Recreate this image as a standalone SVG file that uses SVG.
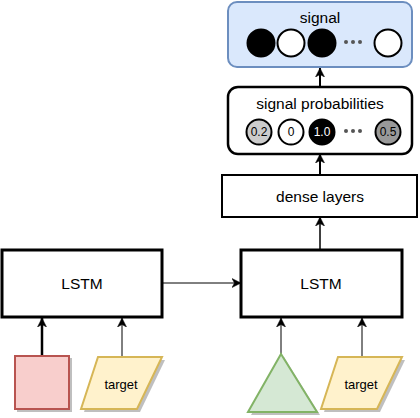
<svg xmlns="http://www.w3.org/2000/svg" width="420" height="418" viewBox="0 0 420 418">
<style>
text{font-family:"Liberation Sans",Arial,sans-serif;fill:#000;text-anchor:middle;dominant-baseline:central}
.lbl{font-size:15.5px}
.small{font-size:13px}
.num{font-size:12px}
.box{fill:#fff;stroke:#000}
.conn{fill:none;stroke:#000}
.shadow{fill:#000;opacity:0.25}
</style>
<defs>
<marker id="arr" markerUnits="userSpaceOnUse" markerWidth="10" markerHeight="10" refX="9" refY="5" orient="auto" viewBox="0 0 10 10">
<path d="M0,0.5 L9,5 L0,9.5 L2.5,5 Z" fill="#000" stroke="#000" stroke-width="0.5"/>
</marker>
</defs>

<g id="connectors">
<path class="conn" d="M320,87 L320,68" stroke-width="2" marker-end="url(#arr)"/>
<path class="conn" d="M320,175 L320,154" stroke-width="2" marker-end="url(#arr)"/>
<path class="conn" d="M320,250 L320,217" stroke-width="1.5" marker-end="url(#arr)"/>
<path class="conn" d="M162,283 L241,283" stroke-width="1" marker-end="url(#arr)"/>
<path class="conn" d="M42,355 L42,318" stroke-width="2.5" marker-end="url(#arr)"/>
<path class="conn" d="M122,357 L122,318" stroke-width="1" marker-end="url(#arr)"/>
<path class="conn" d="M281,354 L281,318" stroke-width="1" marker-end="url(#arr)"/>
<path class="conn" d="M362,357 L362,318" stroke-width="1" marker-end="url(#arr)"/>
</g>

<g id="signal">
<rect x="228" y="2" width="184" height="65" rx="9" fill="#dae8fc" stroke="#6c8ebf" stroke-width="2"/>
<text class="lbl" x="320" y="17">signal</text>
<circle cx="261" cy="43" r="13.5" fill="#000" stroke="#000" stroke-width="2"/>
<circle cx="291" cy="43" r="13.5" fill="#fff" stroke="#000" stroke-width="2"/>
<circle cx="322" cy="43" r="13.5" fill="#000" stroke="#000" stroke-width="2"/>
<circle cx="346" cy="42" r="2" fill="#555"/>
<circle cx="353" cy="42" r="2" fill="#555"/>
<circle cx="360" cy="42" r="2" fill="#555"/>
<circle cx="388" cy="43" r="13.5" fill="#fff" stroke="#000" stroke-width="2"/>
</g>

<g id="signal-probabilities">
<rect class="box" x="228" y="87" width="184" height="67" rx="10" stroke-width="2.5"/>
<text class="lbl" x="320" y="103">signal probabilities</text>
<circle cx="259" cy="132" r="12.5" fill="#ccc" stroke="#000" stroke-width="2"/>
<text class="num" x="259" y="132">0.2</text>
<circle cx="291" cy="132" r="12.5" fill="#fff" stroke="#000" stroke-width="2"/>
<text class="num" x="291" y="132">0</text>
<circle cx="322" cy="132" r="12.5" fill="#000" stroke="#000" stroke-width="2"/>
<text class="num" x="322" y="132" style="fill:#fff">1.0</text>
<circle cx="346" cy="131" r="2" fill="#555"/>
<circle cx="353" cy="131" r="2" fill="#555"/>
<circle cx="360" cy="131" r="2" fill="#555"/>
<circle cx="388" cy="132" r="12.5" fill="#999" stroke="#000" stroke-width="2"/>
<text class="num" x="388" y="132">0.5</text>
</g>

<g id="dense-layers">
<rect class="box" x="222" y="175" width="195" height="42" stroke-width="2"/>
<text class="lbl" x="320" y="196">dense layers</text>
</g>

<g id="lstm-left">
<rect class="box" x="2" y="250" width="160" height="67" stroke-width="3"/>
<text class="lbl" x="82" y="283">LSTM</text>
</g>

<g id="lstm-right">
<rect class="box" x="241" y="250" width="161" height="67" stroke-width="3"/>
<text class="lbl" x="321" y="283">LSTM</text>
</g>

<g id="input-square">
<rect class="shadow" x="17" y="358" width="55" height="54"/>
<rect x="15" y="356" width="54" height="53" fill="#f8cecc" stroke="#b85450" stroke-width="2"/>
</g>

<g id="target-left">
<polygon class="shadow" points="101,360 165,360 140,412 84,412"/>
<polygon points="98,357 162,357 137,409 81,409" fill="#fff2cc" stroke="#d6b656" stroke-width="2"/>
<text class="small" x="121" y="384">target</text>
</g>

<g id="input-triangle">
<polygon class="shadow" points="284,357 320,415 251,415"/>
<polygon points="281,354 317,412 248,412" fill="#d5e8d4" stroke="#82b366" stroke-width="2"/>
</g>

<g id="target-right">
<polygon class="shadow" points="341,360 405,360 380,412 324,412"/>
<polygon points="338,357 402,357 377,409 321,409" fill="#fff2cc" stroke="#d6b656" stroke-width="2"/>
<text class="small" x="361" y="384">target</text>
</g>
</svg>
